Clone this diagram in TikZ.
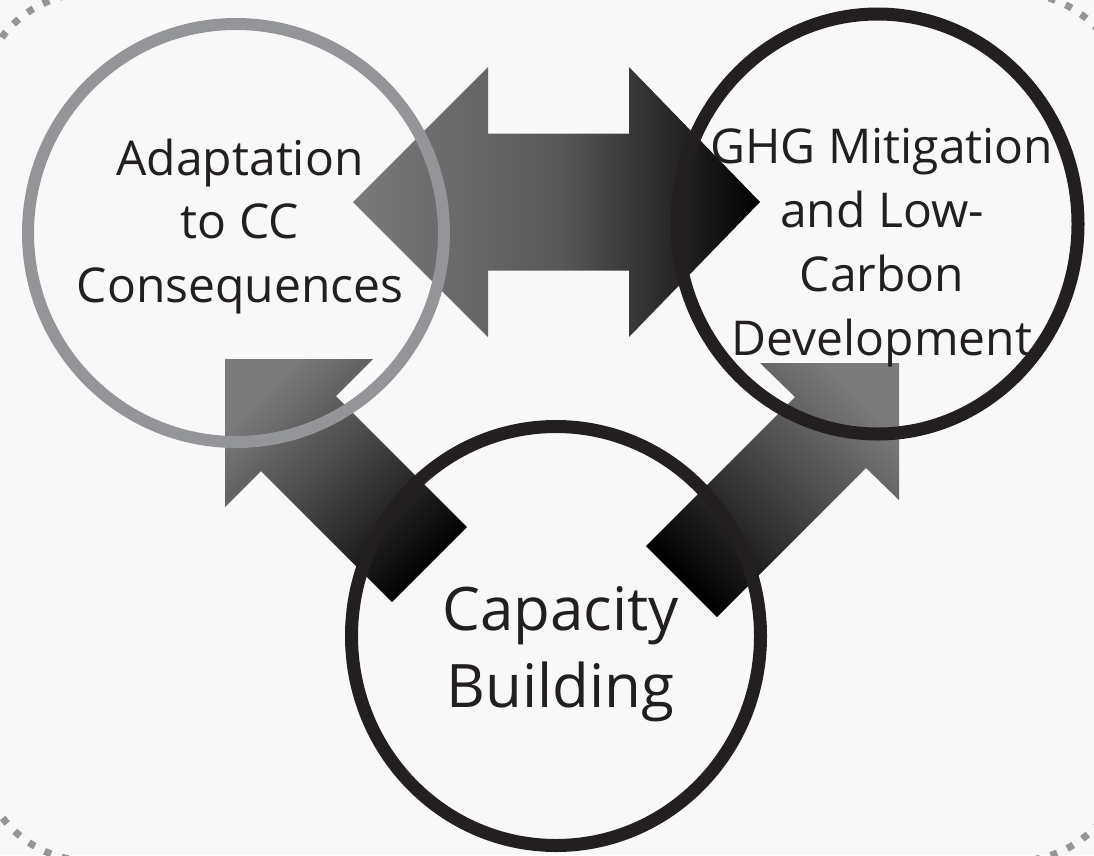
\documentclass[tikz,border=0pt]{standalone}
\usepackage{fontspec}
\setmainfont{Open Sans}
\usetikzlibrary{shapes.geometric}
\definecolor{ringgrey}{HTML}{939598}
\definecolor{ringdark}{HTML}{231F20}
\definecolor{arrowgrey}{HTML}{7A7A7A}
\definecolor{paper}{HTML}{F8F8F8}
\tikzset{
% Ring styles for the three fields, and their labels
grey ring/.style={ellipse,draw=ringgrey,line width=12pt,inner sep=0pt},
dark ring/.style={ellipse,draw=ringdark,line width=13pt,inner sep=0pt},
ring label/.style={align=center,text=ringdark,inner sep=0pt,anchor=base},
dotted frame/.style={ringgrey,line width=7pt,dash pattern=on 7pt off 11pt,rounded corners=110pt}
}

\begin{document}
\begin{tikzpicture}[x=1pt,y=-1pt]
        % Canvas and the dotted frame
        \fill[paper] (0,0) rectangle (1094,855);
        \useasboundingbox (0,0) rectangle (1094,855);
        \draw[dotted frame] (-20,-7) rectangle (1126,861);
        % The big arrows
        \shade[left color=arrowgrey,right color=black,middle color=black!65]
          (353,202) -- (488,67) -- (488,133.5) -- (629,133.5) -- (629,67) -- (760,202)
          -- (629,337) -- (629,270.5) -- (488,270.5) -- (488,337) -- cycle;
        \shade[top color=arrowgrey,bottom color=black,middle color=black!75,shading angle=45]
          (225,359) -- (373,359) -- (336,396) -- (467,527) -- (392,602) -- (261,471) -- (225,507) -- cycle;
        \shade[top color=arrowgrey,bottom color=black,middle color=black!75,shading angle=-45]
          (899,363) -- (760,363) -- (795,397) -- (646,546) -- (717,617) -- (866,468) -- (899,500) -- cycle;
        % The rings
        \node(adapt)[grey ring,minimum width=416pt,minimum height=418pt] at (236,233) {};
        \node(ghg)[dark ring,minimum width=401pt,minimum height=420pt] at (877.5,224) {};
        \node(capac)[dark ring,minimum width=409pt,minimum height=419pt] at (556,636) {};
        % Labels (anchored at the last line's baseline)
        \node(adaptText)[ring label,font=\fontsize{48}{63.5}\selectfont] at (240,302)
          {Adaptation\\to CC\\Consequences};
        \node(ghgText)[ring label,font=\fontsize{48}{64}\selectfont] at (882,355)
          {GHG Mitigation\\and Low-\\Carbon\\Development};
        \node(capacText)[ring label,font=\fontsize{60}{77}\selectfont] at (560.5,707)
          {Capacity\\Building};
\end{tikzpicture}
\end{document}
